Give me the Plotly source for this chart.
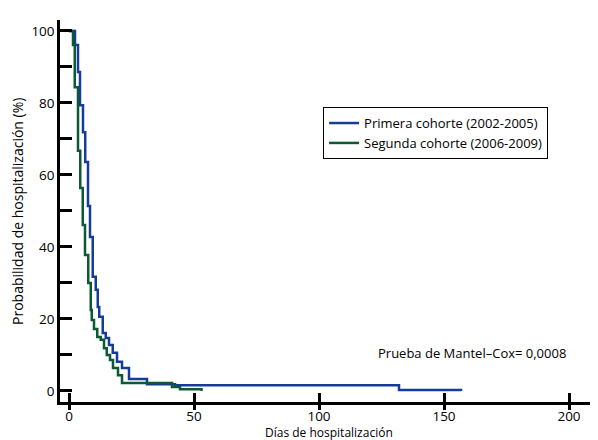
import plotly.graph_objects as go

# Kaplan-Meier style step data (days, % still hospitalized)
primera_dias = [0, 2.4, 3.6, 4.4, 5.6, 6.5, 7.6, 8.4, 9.5, 10.7, 11.5, 12.1, 13.5, 14.7,
                16.0, 17.5, 19.2, 21.2, 24.0, 31.2, 42.4, 132.0, 156.8]
primera_prob = [100, 96.1, 88.6, 79.4, 71.9, 63.6, 51.4, 42.8, 31.7, 28.1, 23.3, 20.6, 16.1, 14.7,
                12.8, 10.6, 8.1, 6.4, 3.3, 1.9, 1.6, 0.3, 0.0]

segunda_dias = [0, 1.6, 2.3, 3.6, 4.5, 5.5, 6.4, 7.7, 8.7, 9.1, 10.0, 11.3, 12.7, 14.0,
                15.1, 16.4, 17.6, 19.6, 21.2, 41.2, 44.4, 53.0]
segunda_prob = [100, 96.1, 84.4, 66.7, 56.4, 46.1, 37.8, 30.0, 22.5, 19.7, 17.2, 15.0, 14.2, 11.9,
                10.0, 8.6, 6.4, 4.4, 2.2, 1.1, 0.5, 0.0]

x_ticks = [0, 50, 100, 150, 200]
y_ticks = [0, 10, 20, 30, 40, 50, 60, 70, 80, 90, 100]
y_ticktext = ["0", "", "20", "", "40", "", "60", "", "80", "", "100"]

FONT = "Open Sans"
BLUE = "#163c9a"
GREEN = "#0b5a33"

fig = go.Figure()
fig.add_trace(go.Scatter(x=primera_dias, y=primera_prob, mode="lines", line_shape="hv",
                         line=dict(color=BLUE, width=2.5), name="Primera cohorte (2002-2005)"))
fig.add_trace(go.Scatter(x=segunda_dias, y=segunda_prob, mode="lines", line_shape="hv",
                         line=dict(color=GREEN, width=2.5), name="Segunda cohorte (2006-2009)",
                         xaxis="x2"))

xr = [-3.6, 211.6]
fig.update_layout(
    width=590, height=432,
    margin=dict(l=52, r=0, t=12, b=38),
    paper_bgcolor="white", plot_bgcolor="white",
    font=dict(family=FONT, size=12, color="black"),
    xaxis=dict(range=xr, tickvals=x_ticks, ticks="inside", ticklen=9, tickwidth=2.5,
               tickcolor="black", showline=True, linecolor="black", linewidth=2.5,
               showgrid=False, zeroline=False, tickfont=dict(size=13.5, family=FONT)),
    xaxis2=dict(range=xr, tickvals=x_ticks, ticks="outside", ticklen=7, tickwidth=2.5,
                tickcolor="black", showticklabels=False, overlaying="x", anchor="y",
                side="bottom", showgrid=False, zeroline=False, showline=False),
    yaxis=dict(range=[-3.06, 103.05], tickvals=y_ticks, ticktext=y_ticktext, ticks="inside",
               ticklen=12, tickwidth=2.5, tickcolor="black", showline=True, linecolor="black",
               linewidth=2.5, showgrid=False, zeroline=False, tickfont=dict(size=13.5, family=FONT)),
    showlegend=True,
    legend=dict(x=0.489, y=0.772, xanchor="left", yanchor="top", bordercolor="black",
                borderwidth=1, bgcolor="white", font=dict(size=13, family=FONT),
                tracegroupgap=0, itemwidth=30),
)

fig.add_annotation(text="Prueba de Mantel\u2013Cox= 0,0008", xref="paper", yref="paper",
                   x=0.944, y=0.128, xanchor="right", yanchor="middle", showarrow=False,
                   font=dict(size=13, family=FONT))
fig.add_annotation(text="Días de hospitalización", xref="paper", yref="paper",
                   x=0.5, y=-0.08, xanchor="center", yanchor="middle", showarrow=False,
                   font=dict(size=12, family=FONT))
fig.add_annotation(text="Probabilidad de hospitalización (%)", xref="paper", yref="paper",
                   x=-0.08, y=0.5, xanchor="center", yanchor="middle", showarrow=False,
                   textangle=-90, font=dict(size=14, family=FONT))

fig.write_html("out.html")
